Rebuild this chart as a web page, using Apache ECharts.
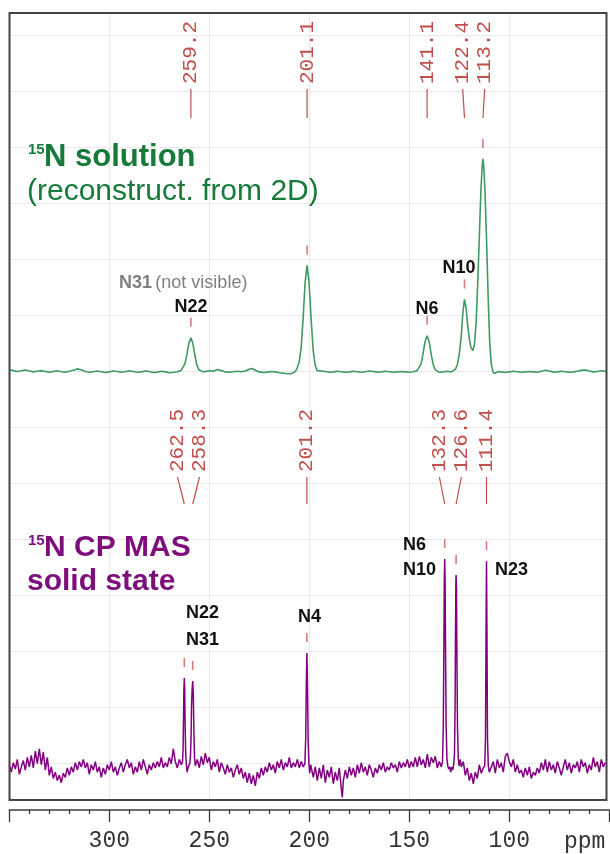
<!DOCTYPE html>
<html><head><meta charset="utf-8">
<script src="https://cdn.jsdelivr.net/npm/echarts@6/dist/echarts.min.js"></script>
<style>html,body{margin:0;padding:0;background:#fff}#c{width:610px;height:854px}</style>
</head><body><div id="c"></div>
<script>
// ---------- data ----------
const xTickLabels = [300, 250, 200, 150, 100];

// 15N solution spectrum (reconstructed from 2D): [ppm, intensity]
const solutionSpectrum = [
[350,1.0],[348,0.6],[346,0.2],[344,0.5],[342,0.9],[340,0.4],[338,0.0],[336,0.3],[334,0.6],[332,0.2],[330,-0.2],[328,0.2],[326,0.5],[324,0.1],[322,-0.1],[320,0.3],[318,0.8],[316,1.4],[314,1.0],[312,0.2],[310,-0.2],[308,0.1],[306,0.4],[304,0.1],[302,-0.3],[300,0.0],[298,0.4],[296,0.2],[294,-0.2],[292,0.1],[290,0.5],[288,0.2],[286,-0.2],[284,0.0],[282,0.4],[280,0.2],[278,-0.3],[276,-0.1],[274,0.3],[272,0.0],[270,-0.4],[268,-0.2],[266,0.1],[265,0.3],
[264.2,0.6],[263.2,1.5],[262.2,3.8],[261.2,8.2],[260.2,13.5],[259.2,16],[258.2,13.3],[257.2,7.8],[256.2,3.2],[255.2,1.0],[254.2,0.3],[253,0.0],[252,0.2],[250,0.5],[248,0.3],[246,1.1],[244,0.6],[242,0.0],[240,-0.2],[238,0.1],[236,0.3],[234,0.1],[232,0.4],[230,1.2],[228.6,1.6],[227,0.8],[225,0.0],[223,-0.3],[221,-0.1],[219,0.2],[217,0.0],[215,-0.4],[213,-0.6],[211,-0.9],[209,-0.8],[207.5,-0.2],
[206.6,0.8],[206.1,1.8],[205.1,4.5],[204.1,11],[203.1,25],[202.1,42],[201.1,50],[200.1,42],[199.1,25],[198.1,10.5],[197.1,3.2],[196.1,0.6],[195.2,-0.3],[194.5,0.5],[193.5,0.8],[192,0.2],[190,-0.2],[188,0.0],[186,0.3],[184,0.1],[182,-0.2],[180,0.0],[178,0.3],[176,0.1],[174,-0.2],[172,0.1],[170,0.4],[168,0.2],[166,-0.1],[164,0.0],[162,0.3],[160,0.1],[158,-0.2],[156,0.0],[154,0.2],[152,0.0],[150,-0.2],[148,0.1],
[147,0.3],[146.1,0.6],[145.1,1.5],[144.1,3.8],[143.1,8.7],[142.1,14.3],[141.1,17],[140.1,14.3],[139.1,8.5],[138.1,3.6],[137.1,1.1],[136.1,0.2],[135,-0.2],[133,0.0],[131,0.3],[129,0.0],
[128,0.4],[127,1.2],[126,3.2],[125,8.5],[124,17],[123.2,28],[122.4,34],[121.6,30],[120.8,22],[120,15.5],[119.2,11.5],[118.2,10],[117.4,13],[116.6,23],[115.8,41],[115,63],[114.2,85],[113.6,96],[113.2,100],[112.8,97],[112.2,86],[111.4,63],[110.6,36],[109.8,14],[109,3.5],[108.2,0.2],[107.4,-0.8],[106.6,-0.3],[105.5,0.2],[104,0.0],[102,-0.3],[100,0.0],[98,0.3],[96,0.1],[94,-0.2],[92,0.0],[90,0.2],[88,0.0],[86,-0.2],[84,0.3],[82,0.8],[80,0.4],[78,-0.1],[76,0.0],[74,0.3],[72,0.1],[70,-0.2],[68,0.0],[66,0.3],[64,0.7],[62,0.9],[60,0.4],[58,0.0],[56,0.2],[54,0.5],[52,0.3],[51.5,0.2]
];

// 15N CP MAS solid-state spectrum: [ppm, intensity]
const cpmasSpectrum = [
[350,2.5],[349,-1],[348,3.5],[347,0.5],[346,5],[345,-2],[344,1.5],[343,4.5],[342,0],[341,6],[340,1.5],[339,7],[338,1],[337,9],[336,3],[335,10],[334,2.5],[333,8.5],[332,0],[331,6],[330,-2.5],[329,1.5],[328,-4],[327,-1],[326,-5],[325,-2.5],[324,-6],[323,-1.5],[322,-3.5],[321,1],[320,-2.5],[319,1.5],[318,-1],[317,3.5],[316,0],[315,4],[314,1.5],[313,5],[312,1],[311,3.5],[310,-2],[309,2.5],[308,0],[307,4],[306,-1],[305,1.5],[304,-3.5],[303,1],[302,-2],[301,2.5],[300,0],
[299,4],[298,-1],[297,1.5],[296,-2.5],[295,1],[294,3.5],[293,-1],[292,2.5],[291,5],[290,1],[289,3.5],[288,-2],[287,1.5],[286,-1],[285,4],[284,0],[283,5],[282,1.5],[281,-2],[280,2.5],[279,0],[278,3.5],[277,1],[276,4],[275,1.5],[274,6],[273,1],[272,3.5],[271,1.5],[270,6],[269,3],[268,10],[267,4],[266,1],[265,5],[264,2.5],
[263.4,4],[263.1,10],[262.9,24],[262.7,38],[262.5,43.6],[262.3,38],[262.1,22],[261.8,8],[261.5,3],[261.1,-1],[260.6,1],[260.1,2.5],[259.7,3.5],[259.4,7],[259.1,16],[258.9,30],[258.6,38],[258.3,42.2],[258.0,36],[257.7,18],[257.4,6],[257.0,2],
[256,5],[255,1],[254,6.5],[253,2.5],[252,8],[251,3.5],[250,6],[249,0],[248,4],[247,1.5],[246,5],[245,-1],[244,3.5],[243,1],[242,-2],[241,2.5],[240,-1],[239,1],[238,-3.5],[237,0],[236,2.5],[235,-2],[234,1],[233,-4],[232,-1],[231,-6],[230,-1.5],[229,-6.5],[228,-2.5],[227,-7.5],[226,-1],[225,-4],[224,1],[223,-2.5],[222,1.5],[221,-1],[220,3.5],[219,0],[218,2.5],[217,-1.5],[216,4],[215,1],[214,5],[213,0],[212,3.5],[211,1.5],[210,6],[209,1],[208,3.5],[207,1.5],[206,5],[205,1],[204,4],[203,1.5],
[202.2,3.0],[201.8,15],[201.5,40],[201.2,55.5],[200.9,40],[200.6,15],[200.2,3],[199.8,-1.5],[199.3,2.5],
[198,-3.5],[197,1.5],[196,-5],[195,1],[194,-4],[193,2.5],[192,-6],[191,0],[190,-3.5],[189,1.5],[188,-6.5],[187,-1],[186,-5],[185,1],[184,-9],[183.5,-13],[183,-5],[182,0],[181,-4],[180,1.5],[179,-2.5],[178,1],[177,-3.5],[176,2.5],[175,-1.5],[174,3.5],[173,-1],[172,1.5],[171,-2.5],[170,2.5],[169,0],[168,-3.5],[167,1],[166,-1.5],[165,2.5],[164,0],[163,3.5],[162,-1],[161,1.5],[160,0],[159,3.5],[158,1],[157,2.5],[156,-1],[155,4],[154,1],[153,3.5],[152,1.5],[151,5],[150,1],[149,4],[148,1.5],[147,6],[146,1.5],[145,6.5],[144,2.5],[143,5],[142,1],[141,7.5],[140,1.5],[139,6],[138,3.5],[137,6.5],[136,1],[135,4],[134,1.5],
[133.4,4],[133.0,20],[132.7,60],[132.5,90],[132.3,100],[132.1,90],[131.9,60],[131.6,22],[131.2,6],[130.8,2],[130.3,0.5],[129.8,1.5],[129.3,-1],[128.8,1.5],[128.3,0.0],[127.8,2.5],[127.4,8],[127.1,30],[126.9,65],[126.7,90],[126.6,92.4],[126.4,85],[126.2,55],[125.9,20],[125.5,5],[125.1,2.0],[124.6,5],
[124,1.5],[123,4],[122,-2.5],[121,1],[120,-5],[119,-1.5],[118,-6.5],[117,-1],[116,-4],[115,2.5],[114,-1.5],[113,1],
[112.3,2.0],[111.9,15],[111.6,70],[111.4,99],[111.2,70],[110.9,15],[110.5,2.0],
[110,-1],[109,1.5],[108,4],[107,-1.5],[106,5],[105,1],[104,3.5],[103,-1],[102,6.5],[101,8],[100,4],[99,1.5],[98,5],[97,-1],[96,2.5],[95,-1.5],[94,0],[93,-3.5],[92,1],[91,-2.5],[90,1.5],[89,-4],[88,-1],[87,-2.5],[86,1],[85,-1.5],[84,3.5],[83,0],[82,5],[81,-1],[80,4],[79,0],[78,2.5],[77,-1.5],[76,4],[75,1],[74,-2.5],[73,1.5],[72,5],[71,0],[70,3.5],[69,-1.5],[68,2.5],[67,1],[66,4],[65,-1],[64,5],[63,1.5],[62,3.5],[61,-1.5],[60,2.5],[59,0],[58,6],[57,1.5],[56,4],[55,-1],[54,5],[53,1.5],[52,3.5]
];

// picked peaks (ppm)
const solutionPeaks = [259.2, 201.1, 141.1, 122.4, 113.2];
const cpmasPeaks = [262.5, 258.3, 201.2, 132.3, 126.6, 111.4];

// ---------- layout / style ----------
const X_MIN = 50, X_MAX = 350;
const GRID = {left: 9.3, right: 0.7, top: 13, bottom: 54};
const PX_PER_PPM = (610 - GRID.left - GRID.right) / (X_MAX - X_MIN);
const LABEL_GAP_PX = 22;
const RED = '#c0504d', RED_DASH = '#d77a78';
const GREEN_LINE = '#3e9a62', PURPLE_LINE = '#800080';
const GREEN_TXT = '#167a3a', PURPLE_TXT = '#7d0f7d';
const MONO = '"Liberation Mono", "DejaVu Sans Mono", monospace';
const SANS = '"Liberation Sans", Arial, sans-serif';

function peakHeight(spec, ppm) {
  let m = -Infinity;
  for (const [x, y] of spec) if (Math.abs(x - ppm) <= 0.6) m = Math.max(m, y);
  return m;
}
function spreadLabels(peaks, gap) {
  let groups = peaks.map(p => ({members: [p], center: p}));
  let changed = true;
  while (changed) {
    changed = false;
    for (let i = 0; i < groups.length - 1; i++) {
      const a = groups[i], b = groups[i + 1];
      const aLow = a.center - (a.members.length - 1) * gap / 2;
      const bHigh = b.center + (b.members.length - 1) * gap / 2;
      if (aLow - bHigh < gap - 1e-9) {
        const members = a.members.concat(b.members);
        const center = members.reduce((s, v) => s + v, 0) / members.length;
        groups.splice(i, 2, {members, center});
        changed = true; break;
      }
    }
  }
  const out = [];
  groups.forEach(g => g.members.forEach((m, k) => out.push(g.center + ((g.members.length - 1) / 2 - k) * gap)));
  return out;
}
function annotData(peaks, spec) {
  const sorted = peaks.slice().sort((a, b) => b - a);
  const lab = spreadLabels(sorted, LABEL_GAP_PX / PX_PER_PPM);
  return sorted.map((p, i) => [p, lab[i], peakHeight(spec, p)]);
}
function makeRender(textBaseY, leadTop, leadBot) {
  return function (params, api) {
    const ppm = api.value(0);
    const top = api.coord([ppm, api.value(2)]);
    const lx = api.coord([api.value(1), 0])[0];
    return {
      type: 'group',
      children: [
        {type: 'text', x: lx, y: textBaseY, rotation: Math.PI / 2,
         style: {text: ppm.toFixed(1), font: '21px ' + MONO, fill: RED, align: 'left', verticalAlign: 'middle'}},
        {type: 'line', shape: {x1: lx, y1: leadTop, x2: top[0], y2: leadBot},
         style: {stroke: RED, lineWidth: 1.2}},
        {type: 'line', shape: {x1: top[0], y1: top[1] - 20, x2: top[0], y2: top[1] - 11},
         style: {stroke: RED_DASH, lineWidth: 1.6}}
      ]
    };
  };
}

const chart = echarts.init(document.getElementById('c'), null, {renderer: 'canvas'});

function txt(text, x, y, font, fill, align) {
  return {type: 'text', x, y, z: 20,
    style: {text, font, fill, align: align || 'left', verticalAlign: 'middle'}};
}

const option = {
  animation: false,
  backgroundColor: '#fff',
  grid: [
    Object.assign({outerBoundsMode: 'none', containLabel: false}, GRID),
    {left: GRID.left, right: 3.3, top: 35, bottom: 90.4, outerBoundsMode: 'none', containLabel: false}
  ],
  xAxis: [
    {type: 'value', gridIndex: 0, min: X_MIN, max: X_MAX, interval: 50, inverse: true, offset: 10,
     position: 'bottom',
     axisLine: {show: true, onZero: false, lineStyle: {color: '#3a3a3a', width: 1.5}},
     axisTick: {show: true, length: 12, lineStyle: {color: '#3a3a3a', width: 1.3}},
     minorTick: {show: true, splitNumber: 5, length: 4, lineStyle: {color: '#3a3a3a', width: 1.3}},
     axisLabel: {show: true, margin: 19, color: '#333', fontFamily: 'Liberation Mono', fontSize: 23,
       showMinLabel: false, showMaxLabel: false,
       formatter: v => xTickLabels.includes(v) ? String(v) : ''},
     splitLine: {show: true, showMinLine: false, showMaxLine: false, lineStyle: {color: '#e9e9e9', width: 1}}},
    {type: 'value', gridIndex: 1, min: 0, max: 1, show: false}
  ],
  yAxis: [
    {type: 'value', gridIndex: 0, min: -201, max: 168.5, show: false},
    {type: 'value', gridIndex: 0, min: -14.2, max: 358.8, show: false},
    {type: 'value', gridIndex: 1, min: 0, max: 13, interval: 1,
     axisLine: {show: false}, axisTick: {show: false}, axisLabel: {show: false},
     splitLine: {show: true, lineStyle: {color: '#e9e9e9', width: 1}}}
  ],
  series: [
    {type: 'line', xAxisIndex: 0, yAxisIndex: 0, data: solutionSpectrum, showSymbol: false, silent: true,
     lineStyle: {color: GREEN_LINE, width: 1.6}, z: 3},
    {type: 'line', xAxisIndex: 0, yAxisIndex: 1, data: cpmasSpectrum, showSymbol: false, silent: true,
     lineStyle: {color: PURPLE_LINE, width: 1.5}, z: 3},
    {type: 'custom', xAxisIndex: 0, yAxisIndex: 0, clip: false, silent: true, z: 5,
     data: annotData(solutionPeaks, solutionSpectrum), encode: {x: 0, y: 2},
     renderItem: makeRender(84, 89, 118)},
    {type: 'custom', xAxisIndex: 0, yAxisIndex: 1, clip: false, silent: true, z: 5,
     data: annotData(cpmasPeaks, cpmasSpectrum), encode: {x: 0, y: 2},
     renderItem: makeRender(472, 477, 504)}
  ],
  graphic: [
    {type: 'rect', z: 30, shape: {x: 9.5, y: 13, width: 597, height: 787},
     style: {fill: 'none', stroke: '#444', lineWidth: 2}},
    // titles
    txt('15', 28, 150, 'bold 15px ' + SANS, GREEN_TXT),
    txt('N solution', 44, 157, 'bold 31px ' + SANS, GREEN_TXT),
    txt('(reconstruct. from 2D)', 27, 192, '30px ' + SANS, GREEN_TXT),
    txt('15', 28, 541, 'bold 15px ' + SANS, PURPLE_TXT),
    txt('N CP MAS', 44, 548, 'bold 30px ' + SANS, PURPLE_TXT),
    txt('solid state', 27, 582, 'bold 30px ' + SANS, PURPLE_TXT),
    // assignments
    {type: 'text', x: 119, y: 283, z: 20, style: {text: '{b|N31} {n|(not visible)}', verticalAlign: 'middle',
      rich: {b: {font: 'bold 18px ' + SANS, fill: '#808080'}, n: {font: '18px ' + SANS, fill: '#808080'}}}},
    txt('N22', 191, 307, 'bold 18px ' + SANS, '#111', 'center'),
    txt('N6', 427, 309, 'bold 18px ' + SANS, '#111', 'center'),
    txt('N10', 459, 268, 'bold 18px ' + SANS, '#111', 'center'),
    txt('N6', 403, 545, 'bold 18px ' + SANS, '#111'),
    txt('N10', 403, 570, 'bold 18px ' + SANS, '#111'),
    txt('N23', 495, 570, 'bold 18px ' + SANS, '#111'),
    txt('N22', 186, 613, 'bold 18px ' + SANS, '#111'),
    txt('N31', 186, 640, 'bold 18px ' + SANS, '#111'),
    txt('N4', 298, 617, 'bold 18px ' + SANS, '#111'),
    // axis unit
    txt('ppm', 564, 842, '23px ' + MONO, '#333')
  ]
};
chart.setOption(option);
</script>
</body></html>
